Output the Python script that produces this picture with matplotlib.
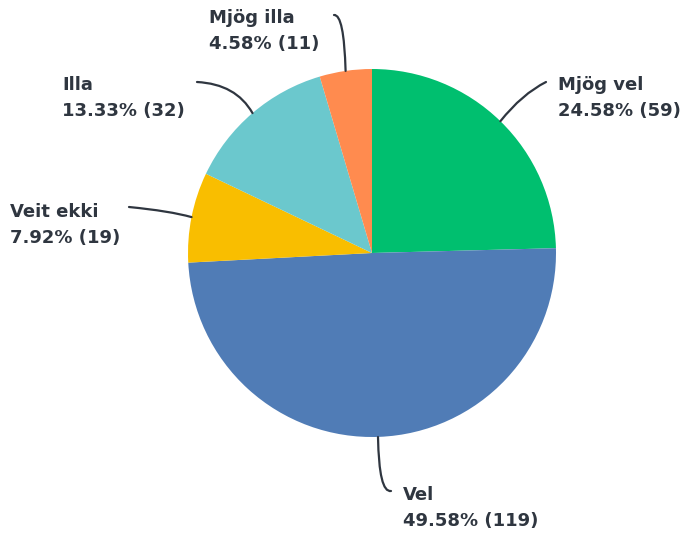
import matplotlib
matplotlib.use("Agg")
import matplotlib.pyplot as plt
from matplotlib.path import Path
from matplotlib.patches import PathPatch
import numpy as np

categories = ["Mjög vel", "Vel", "Veit ekki", "Illa", "Mjög illa"]
counts = [59, 119, 19, 32, 11]
colors = ["#00BF6F", "#507CB6", "#F9BE00", "#6BC8CD", "#FF8B4F"]

W, H = 691, 535
fig = plt.figure(figsize=(W / 100, H / 100), dpi=100)
ax = fig.add_axes([0, 0, 1, 1])

cx, cy, R = 372, H - 253, 184
wedges, _ = ax.pie(counts, colors=colors, startangle=90, counterclock=False,
                   center=(cx, cy), radius=R, frame=True,
                   wedgeprops=dict(linewidth=0))
ax.set_xlim(0, W)
ax.set_ylim(0, H)
ax.set_aspect("equal")
ax.axis("off")

total = sum(counts)
# label layout in pixel coords (x, y-center), plus leader control/end points
layout = {
    "Mjög vel": dict(text=(558, 98), anchor=None, ctrl=(522, 94), end=(546, 82)),
    "Vel": dict(text=(403, 508), anchor=(378, 437), ctrl=(379, 493), end=(391, 491)),
    "Veit ekki": dict(text=(10, 225), anchor=None, ctrl=(170, 211), end=(129, 207)),
    "Illa": dict(text=(62, 98), anchor=None, ctrl=(236, 84), end=(197, 82)),
    "Mjög illa": dict(text=(209, 31), anchor=None, ctrl=(344, 14), end=(334, 15)),
}

def px(p):
    return (p[0], H - p[1])

for w, cat, n in zip(wedges, categories, counts):
    L = layout[cat]
    if L["anchor"] is None:
        mid = np.deg2rad((w.theta1 + w.theta2) / 2)
        a = (cx + R * np.cos(mid), cy + R * np.sin(mid))
    else:
        a = px(L["anchor"])
    verts = [a, px(L["ctrl"]), px(L["end"])]
    path = Path(verts, [Path.MOVETO, Path.CURVE3, Path.CURVE3])
    ax.add_patch(PathPatch(path, facecolor="none", edgecolor="#2f3640", lw=1.6,
                           capstyle="round"))
    pct = 100 * n / total
    tx, ty = px(L["text"])
    ax.text(tx, ty, f"{cat}\n{pct:.2f}% ({n})", ha="left", va="center",
            fontsize=13, fontweight="bold", color="#2f3640",
            family="DejaVu Sans", linespacing=1.55)

fig.savefig("out.png", dpi=100)
